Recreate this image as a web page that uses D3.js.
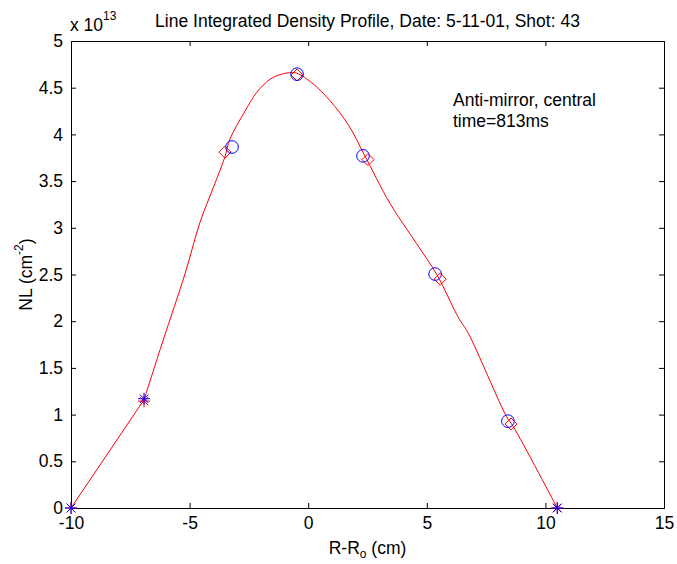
<!DOCTYPE html>
<html>
<head>
<meta charset="utf-8">
<script src="https://cdn.jsdelivr.net/npm/d3@7"></script>
<style>
  body { margin: 0; background: #fff; }
  svg { display: block; font-family: "Liberation Sans", Arial, sans-serif; }
</style>
</head>
<body>
<div id="chart"></div>
<script>
// values in units of 1e13 cm^-2
const curveX = [-10, -6.92, -6.11, -5.19, -4.56, -4.0, -3.51, -3.30, -2.66, -2.17, -1.61, -1.12, -0.8, -0.48,
  0.21, 0.92, 1.7, 2.35, 3.45, 4.57, 5.42, 6.33, 6.75, 8.37, 8.65, 10.5];
const curveY = [0, 1.16, 1.80, 2.51, 3.06, 3.43, 3.76, 3.95, 4.25, 4.45, 4.59, 4.645, 4.66, 4.655,
  4.54, 4.36, 4.10, 3.79, 3.26, 2.83, 2.50, 2.04, 1.87, 0.975, 0.87, 0];

const circleX = [-3.21, -0.47, 2.31, 5.35, 8.42];
const circleY = [3.865, 4.645, 3.77, 2.505, 0.93];

const diamondX = [-3.51, -0.47, 2.52, 5.56, 8.55];
const diamondY = [3.81, 4.636, 3.73, 2.45, 0.90];

const redStarX = [-10, -6.92, 10.5];
const redStarY = [0, 1.145, 0];
const blueStarX = [-10, -6.92, 10.5];
const blueStarY = [0, 1.17, 0];

const xTicks = [-10, -5, 0, 5, 10, 15];
const yTicks = [0, 0.5, 1, 1.5, 2, 2.5, 3, 3.5, 4, 4.5, 5];

const width = 677, height = 564;
const margin = { top: 41, right: 13, bottom: 56, left: 71 };
const innerW = width - margin.left - margin.right;
const innerH = height - margin.top - margin.bottom;

const svg = d3.select('#chart').append('svg')
  .attr('width', width)
  .attr('height', height);

const g = svg.append('g').attr('transform', `translate(${margin.left},${margin.top})`);

const x = d3.scaleLinear().domain([-10, 15]).range([0, innerW]);
const y = d3.scaleLinear().domain([0, 5]).range([innerH, 0]);

const tickLen = 5;
const fontSize = '17.5px';
const smallSize = '12px';

// axes: bottom/left labelled, top/right ticks only (inward)
g.append('g')
  .attr('transform', `translate(0,${innerH})`)
  .call(d3.axisBottom(x).tickValues(xTicks).tickSize(-tickLen).tickPadding(9).tickFormat(d => String(d)))
  .call(a => {
    a.selectAll('text').style('font-size', fontSize).attr('fill', '#000');
    a.select('.domain').attr('stroke', '#000');
    a.selectAll('.tick line').attr('stroke', '#000');
  });
g.append('g')
  .call(d3.axisTop(x).tickValues(xTicks).tickSize(-tickLen).tickFormat(''))
  .call(a => a.selectAll('path, line').attr('stroke', '#000'));
g.append('g')
  .call(d3.axisLeft(y).tickValues(yTicks).tickSize(-tickLen).tickPadding(8).tickFormat(d => String(d)))
  .call(a => {
    a.selectAll('text').style('font-size', fontSize).attr('fill', '#000');
    a.selectAll('path, line').attr('stroke', '#000');
  });
g.append('g')
  .attr('transform', `translate(${innerW},0)`)
  .call(d3.axisRight(y).tickValues(yTicks).tickSize(-tickLen).tickFormat(''))
  .call(a => a.selectAll('path, line').attr('stroke', '#000'));

// fitted profile: straight edge segment, smooth body
const pts = curveX.map((v, i) => [v, curveY[i]]);
const straight = d3.line().x(d => x(d[0])).y(d => y(d[1]));
const smooth = d3.line().x(d => x(d[0])).y(d => y(d[1])).curve(d3.curveCatmullRom.alpha(0.5));
g.append('path')
  .attr('d', straight(pts.slice(0, 2)) + smooth(pts.slice(1)))
  .attr('fill', 'none')
  .attr('stroke', '#ff0000')
  .attr('stroke-width', 1);

// diamonds
const dR = 6;
g.append('g').selectAll('path')
  .data(diamondX.map((v, i) => [v, diamondY[i]]))
  .join('path')
  .attr('d', d => {
    const cx = x(d[0]), cy = y(d[1]);
    return `M${cx},${cy - dR}L${cx + dR},${cy}L${cx},${cy + dR}L${cx - dR},${cy}Z`;
  })
  .attr('fill', 'none')
  .attr('stroke', '#ff0000')
  .attr('stroke-width', 1);

// circles
g.append('g').selectAll('circle')
  .data(circleX.map((v, i) => [v, circleY[i]]))
  .join('circle')
  .attr('cx', d => x(d[0]))
  .attr('cy', d => y(d[1]))
  .attr('r', 6.3)
  .attr('fill', 'none')
  .attr('stroke', '#0000ff')
  .attr('stroke-width', 1);

// asterisk markers
function star(sel, xs, ys, color) {
  const s = 6, t = 4.3;
  sel.append('g').selectAll('path')
    .data(xs.map((v, i) => [v, ys[i]]))
    .join('path')
    .attr('d', d => {
      const cx = x(d[0]), cy = y(d[1]);
      return `M${cx - s},${cy}H${cx + s}M${cx},${cy - s}V${cy + s}` +
        `M${cx - t},${cy - t}L${cx + t},${cy + t}M${cx - t},${cy + t}L${cx + t},${cy - t}`;
    })
    .attr('fill', 'none')
    .attr('stroke', color)
    .attr('stroke-width', 1);
}
star(g, redStarX, redStarY, '#ff0000');
star(g, blueStarX, blueStarY, '#0000ff');

// title
svg.append('text')
  .attr('x', margin.left + innerW / 2)
  .attr('y', 27)
  .attr('text-anchor', 'middle')
  .style('font-size', fontSize)
  .text('Line Integrated Density Profile, Date: 5-11-01, Shot: 43');

// exponent label
const ex = svg.append('text')
  .attr('x', 70)
  .attr('y', 31)
  .style('font-size', fontSize);
ex.append('tspan').text('x 10');
ex.append('tspan').attr('dy', -11).style('font-size', smallSize).text('13');

// x label
const xl = svg.append('text')
  .attr('x', margin.left + innerW / 2)
  .attr('y', 554)
  .attr('text-anchor', 'middle')
  .style('font-size', fontSize);
xl.append('tspan').text('R-R');
xl.append('tspan').attr('dy', 4).style('font-size', smallSize).text('o');
xl.append('tspan').attr('dy', -4).text(' (cm)');

// y label
const yl = svg.append('text')
  .attr('transform', `translate(32,${margin.top + innerH / 2}) rotate(-90)`)
  .attr('text-anchor', 'middle')
  .style('font-size', fontSize);
yl.append('tspan').text('NL (cm');
yl.append('tspan').attr('dy', -9).style('font-size', smallSize).text('-2');
yl.append('tspan').attr('dy', 9).text(')');

// annotation
const ann = svg.append('text').style('font-size', fontSize);
ann.append('tspan').attr('x', 453).attr('y', 106).text('Anti-mirror, central');
ann.append('tspan').attr('x', 453).attr('y', 127).text('time=813ms');
</script>
</body>
</html>
